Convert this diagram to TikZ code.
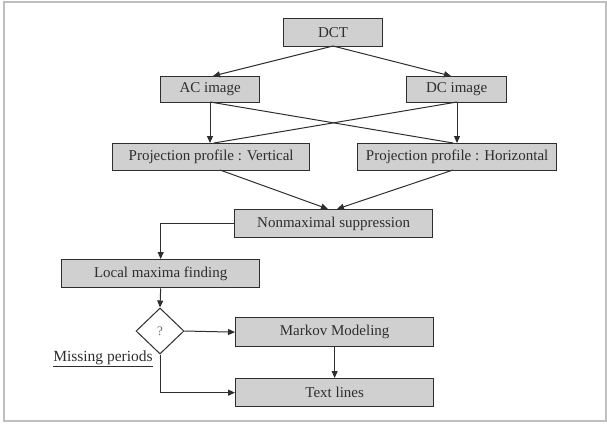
\documentclass[tikz,border=0pt]{standalone}
\usepackage{fontspec}
\setmainfont{Liberation Serif}
\usetikzlibrary{shapes.geometric,arrows.meta}
\definecolor{boxfill}{HTML}{D0D0D0}
\definecolor{ink}{HTML}{2E2E2E}
\begin{document}
\begin{tikzpicture}[x=1pt,y=-1pt,
  procbox/.style={draw=ink,line width=1.3pt,fill=boxfill,inner sep=0pt,
    font=\fontsize{15}{17}\selectfont,text=ink,anchor=north west},
  conn/.style={draw=ink,line width=1pt},
  arr/.style={conn,-{Triangle[length=7pt,width=6pt]}}]
\useasboundingbox (0,0) rectangle (607,423);
\draw[gray!50,line width=1.2pt] (4,2) rectangle (606,421);
% boxes: (x1,y1) size
\node[procbox,minimum width=99pt,minimum height=28pt] (dct) at (283,18) {DCT};
\node[procbox,minimum width=99pt,minimum height=26pt] (ac) at (160,76) {AC image};
\node[procbox,minimum width=100pt,minimum height=26pt] (dc) at (406,76) {DC image};
\node[procbox,minimum width=197pt,minimum height=27pt] (pv) at (112,143) {Projection profile : Vertical};
\node[procbox,minimum width=199pt,minimum height=27pt] (ph) at (357,143) {Projection profile : Horizontal};
\node[procbox,minimum width=198pt,minimum height=28pt] (nm) at (234,209) {Nonmaximal suppression};
\node[procbox,minimum width=198pt,minimum height=28pt] (lm) at (61,259) {Local maxima finding};
\node[draw=ink,line width=1pt,fill=white,diamond,minimum width=48pt,minimum height=46pt,inner sep=0pt,
  font=\fontsize{13}{15}\selectfont,text=ink!70] (q) at (160,331) {?};
\node[procbox,minimum width=198pt,minimum height=29pt] (mk) at (235,317) {Markov Modeling};
\node[procbox,minimum width=198pt,minimum height=28pt] (tl) at (235,378) {Text lines};
\node[font=\fontsize{15.5}{17}\selectfont,text=ink,anchor=base,inner sep=0pt] (mp) at (103,361) {\underline{Missing periods}};
% coordinates
\coordinate (dctb) at (333,46);
\coordinate (acb) at (210,102);
\coordinate (dcb) at (457,102);
\coordinate (pvt) at (210,143);
\coordinate (pht) at (457,143);
\draw[arr] (dctb) -- (213,76);
\draw[arr] (dctb) -- (451,76);
\draw[arr] (acb) -- (pvt);
\draw[arr] (dcb) -- (pht);
\draw[conn] (acb) -- (453,143);
\draw[conn] (dcb) -- (214,143);
\draw[arr] (220,170) -- (328,209);
\draw[arr] (453,170) -- (337,209);
\draw[arr] (nm.west) -| (lm.north);
\draw[arr] (lm.south) -- (q.north);
\draw[arr] (q.east) -- (mk.west);
\draw[arr] (mk.south) -- (tl.north);
\draw[arr] (q.south) |- (tl.west);
\end{tikzpicture}
\end{document}
